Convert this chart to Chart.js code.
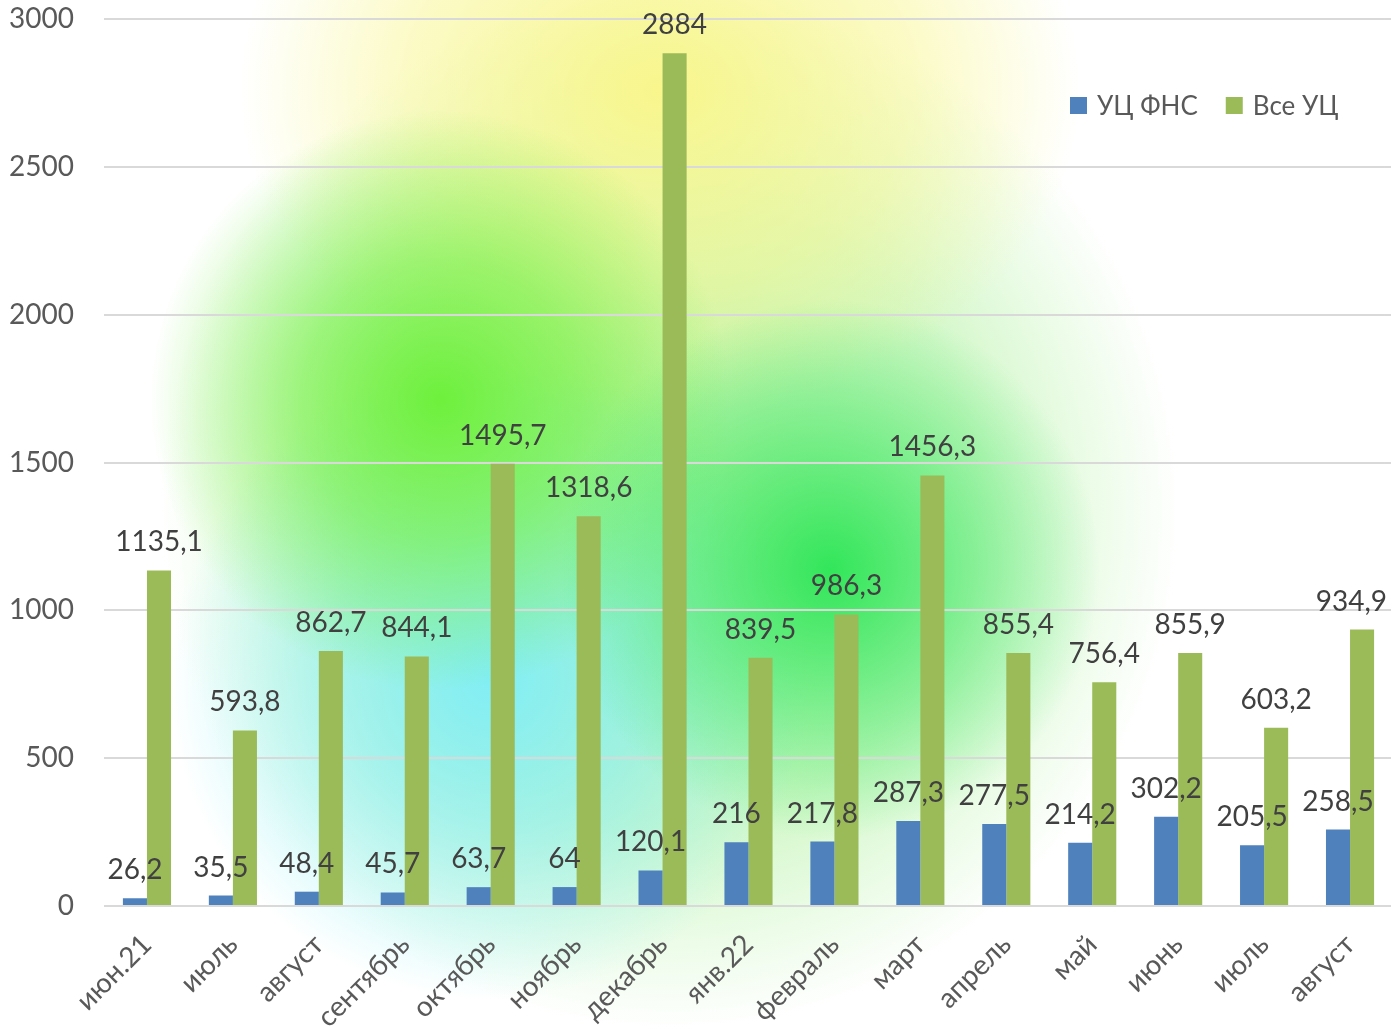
<!DOCTYPE html>
<html>
<head>
<meta charset="utf-8">
<script src="https://cdn.jsdelivr.net/npm/chart.js@4"></script>
<style>
html,body{margin:0;padding:0;background:#fff;overflow:hidden;}
#wrap{position:relative;width:1391px;height:1033px;overflow:hidden;
background:
 radial-gradient(circle at 830px 570px, rgba(50,230,90,1) 0px, rgba(60,232,100,0.6) 120px, rgba(60,232,100,0) 270px),
 radial-gradient(circle at 440px 400px, rgba(110,240,60,1) 0px, rgba(110,240,60,0.6) 140px, rgba(110,240,60,0) 290px),
 radial-gradient(circle at 490px 680px, rgba(130,238,245,1) 0px, rgba(130,238,245,0.6) 150px, rgba(130,238,245,0) 320px),
 radial-gradient(ellipse 420px 330px at 660px 90px, rgba(248,246,140,1) 0px, rgba(248,246,140,0.5) 60%, rgba(248,246,140,0) 100%),
 radial-gradient(ellipse 510px 520px at 670px 510px, rgba(165,240,145,0.9) 0px, rgba(165,240,145,0.5) 60%, rgba(165,240,145,0) 100%),
 #ffffff;}
canvas{position:absolute;left:0;top:0;}
</style>
</head>
<body>
<div id="wrap"><canvas id="c" width="1394" height="1033"></canvas></div>
<script>
const categories = ["июн.21","июль","август","сентябрь","октябрь","ноябрь","декабрь","янв.22","февраль","март","апрель","май","июнь","июль","август"];
const fnsValues = [26.2,35.5,48.4,45.7,63.7,64,120.1,216,217.8,287.3,277.5,214.2,302.2,205.5,258.5];
const allValues = [1135.1,593.8,862.7,844.1,1495.7,1318.6,2884,839.5,986.3,1456.3,855.4,756.4,855.9,603.2,934.9];
const seriesNames = ["УЦ ФНС","Все УЦ"];
const yTicks = [0,500,1000,1500,2000,2500,3000];

const FONT = "Lato";
const VISIBLE_W = 1391;
const fmt = v => String(v).replace('.', ',');

const labelPlugin = {
  id: 'barLabels',
  afterDatasetsDraw(chart) {
    const ctx = chart.ctx;
    ctx.save();
    ctx.font = "28px " + FONT;
    ctx.fillStyle = "#404040";
    ctx.textAlign = "center";
    ctx.textBaseline = "alphabetic";
    chart.data.datasets.forEach((ds, di) => {
      const meta = chart.getDatasetMeta(di);
      meta.data.forEach((bar, i) => {
        const t = fmt(ds.data[i]);
        const w = ctx.measureText(t).width;
        let x = bar.x;
        if (x + w / 2 > VISIBLE_W - 4) x = VISIBLE_W - 4 - w / 2;
        ctx.fillText(t, x, bar.y - 19);
      });
    });
    ctx.restore();
  },
  afterDraw(chart) {
    const ctx = chart.ctx;
    ctx.save();
    ctx.font = "26px " + FONT;
    ctx.textBaseline = "alphabetic";
    ctx.textAlign = "left";
    let x = 1070;
    const y = 115;
    chart.data.datasets.forEach((ds) => {
      ctx.fillStyle = ds.backgroundColor;
      ctx.fillRect(x, 97, 17, 17);
      x += 27;
      ctx.fillStyle = "#595959";
      ctx.fillText(ds.label, x, y);
      x += ctx.measureText(ds.label).width + 28;
    });
    ctx.restore();
  }
};

new Chart(document.getElementById('c'), {
  type: 'bar',
  data: {
    labels: categories,
    datasets: [
      { label: seriesNames[0], data: fnsValues, backgroundColor: "#4F81BD", categoryPercentage: 0.56, barPercentage: 1.0 },
      { label: seriesNames[1], data: allValues, backgroundColor: "#9BBB59", categoryPercentage: 0.56, barPercentage: 1.0 }
    ]
  },
  options: {
    responsive: false,
    animation: false,
    devicePixelRatio: 1,
    layout: { padding: { top: 19, right: 1, left: 0, bottom: 0 } },
    plugins: { legend: { display: false }, tooltip: { enabled: false } },
    scales: {
      x: {
        grid: { display: false },
        border: { display: false },
        ticks: { color: "#595959", font: { family: FONT, size: 28 }, minRotation: 45, maxRotation: 45, padding: 14, autoSkip: false },
        afterFit(s) { s.height = 127; s.paddingLeft = 0; s.paddingRight = 0; }
      },
      y: {
        min: 0, max: 3000,
        afterBuildTicks(s) { s.ticks = yTicks.map(v => ({ value: v })); },
        grid: { color: "#d9d9d9", lineWidth: 2, drawTicks: false },
        border: { display: false },
        ticks: { color: "#595959", font: { family: FONT, size: 28 }, padding: 30, callback: v => String(v) },
        afterFit(s) { s.width = 104; s.paddingTop = 0; s.paddingBottom = 0; }
      }
    }
  },
  plugins: [labelPlugin]
});
</script>
</body>
</html>
